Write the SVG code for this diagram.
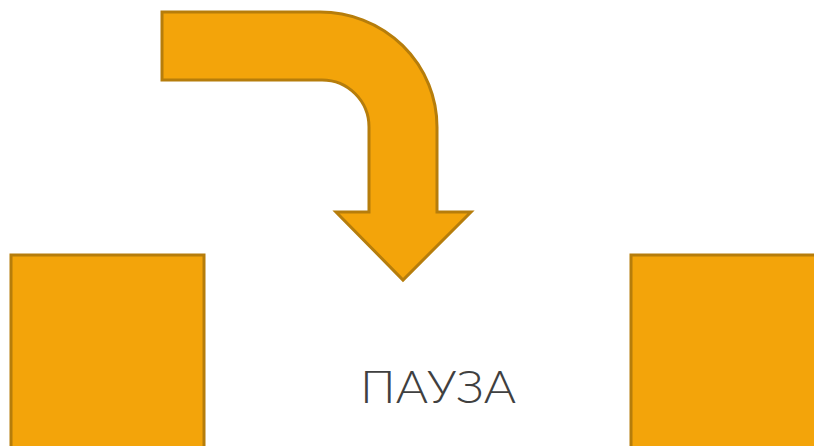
<svg xmlns="http://www.w3.org/2000/svg" width="814" height="446" viewBox="0 0 814 446">
  <style>
    .shape { fill: #f3a40a; stroke: #b67d0b; stroke-width: 3; stroke-linejoin: miter; }
    .label { font-family: "Lato", "Open Sans", "Liberation Sans", sans-serif; font-weight: 300; font-size: 46px; fill: #404040; }
  </style>
  <rect width="814" height="446" fill="#ffffff"/>
  <g id="arrow">
    <path class="shape" d="M162,12 H320 A117,115 0 0 1 437,127 V212 H471 L403,280 L336,212 H369 V127 A47,47 0 0 0 322,80 H162 Z"/>
  </g>
  <g id="left-block">
    <rect class="shape" x="11" y="255" width="193" height="210"/>
  </g>
  <g id="right-block">
    <rect class="shape" x="631" y="255" width="200" height="210"/>
  </g>
  <g id="pause-label">
    <text class="label" x="360" y="403" textLength="156" lengthAdjust="spacingAndGlyphs">ПАУЗА</text>
  </g>
</svg>
